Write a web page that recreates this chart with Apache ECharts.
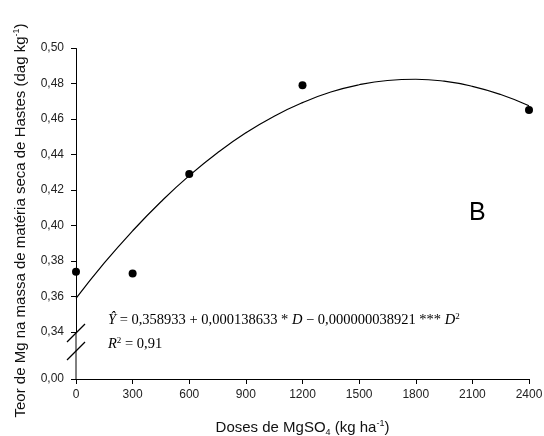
<!DOCTYPE html>
<html>
<head>
<meta charset="utf-8">
<script src="https://cdn.jsdelivr.net/npm/echarts@6/dist/echarts.min.js"></script>
<style>
  html, body { margin: 0; padding: 0; background: #fff; }
  #chart { width: 544px; height: 436px; }
</style>
</head>
<body>
<div id="chart"></div>
<script>
// Observed Mg content in stems per MgSO4 dose
const doses = [0, 300, 600, 1200, 2400];
const teorMg = [0.374, 0.373, 0.429, 0.479, 0.465];

// Fitted quadratic response, sampled along the dose range
const curveDoses = [0, 150, 300, 450, 600, 750, 900, 1050, 1200, 1350, 1500, 1650, 1800, 1950, 2100, 2250, 2400];
const curveTeor = [0.3589, 0.3789, 0.3970, 0.4134, 0.4281, 0.4410, 0.4522, 0.4616, 0.4692, 0.4752, 0.4793, 0.4817, 0.4824, 0.4813, 0.4784, 0.4738, 0.4675];

// Axis ticks
const xTicks = { min: 0, max: 2400, interval: 300 };
const yTicks = { min: 0, max: 0.5, interval: 0.02 };
const yBreak = { start: 0, end: 0.34 };

const FONT = 'Liberation Sans';
const SERIF = 'Liberation Serif';
const comma = v => v.toFixed(2).replace('.', ',');

const chart = echarts.init(document.getElementById('chart'));

const option = {
  animation: false,
  backgroundColor: '#fff',
  grid: { left: 76, right: 15, top: 48, bottom: 57, outerBoundsMode: 'none', containLabel: false },
  xAxis: {
    type: 'value',
    min: xTicks.min, max: xTicks.max, interval: xTicks.interval,
    name: '{a|Doses de MgSO}{b|4}{a| (kg ha}{c|-1}{a|)}',
    nameLocation: 'middle',
    nameGap: 40,
    nameTextStyle: {
      rich: {
        a: { fontFamily: FONT, fontSize: 15, color: '#111' },
        b: { fontFamily: FONT, fontSize: 9, color: '#111', padding: [9, 0, 0, 0] },
        c: { fontFamily: FONT, fontSize: 9, color: '#111', padding: [0, 0, 9, 0] }
      }
    },
    axisLine: { lineStyle: { color: '#000', width: 1 } },
    axisTick: { show: true, inside: false, length: 5, lineStyle: { color: '#000' } },
    axisLabel: { fontFamily: FONT, fontSize: 12, color: '#222', margin: 10, formatter: v => String(v) },
    splitLine: { show: false }
  },
  yAxis: {
    type: 'value',
    min: yTicks.min, max: yTicks.max, interval: yTicks.interval,
    breaks: [{ start: yBreak.start, end: yBreak.end, gap: '14.2%' }],
    breakArea: { show: false },
    name: '{a|Teor de Mg na massa de matéria seca de Hastes (dag kg}{c|-1}{a|)}',
    nameLocation: 'middle',
    nameGap: 46,
    nameRotate: 90,
    nameTextStyle: {
      padding: [0, 14, 0, 0],
      rich: {
        a: { fontFamily: FONT, fontSize: 15, color: '#111' },
        c: { fontFamily: FONT, fontSize: 9, color: '#111', padding: [0, 0, 9, 0] }
      }
    },
    axisLine: { show: true, lineStyle: { color: '#000', width: 1 } },
    axisTick: { show: true, inside: false, length: 5, lineStyle: { color: '#000' } },
    axisLabel: { fontFamily: FONT, fontSize: 12, color: '#222', margin: 12, formatter: comma },
    splitLine: { show: false }
  },
  series: [
    {
      type: 'line',
      data: curveDoses.map((d, i) => [d, curveTeor[i]]),
      smooth: true,
      showSymbol: false,
      lineStyle: { color: '#000', width: 1.2 },
      z: 2
    },
    {
      type: 'scatter',
      data: doses.map((d, i) => [d, teorMg[i]]),
      symbol: 'circle',
      symbolSize: 8,
      itemStyle: { color: '#000', opacity: 1 },
      z: 3
    }
  ]
};

chart.setOption(option);

// Break marks on the y axis plus the regression text and panel letter
const x0 = chart.convertToPixel({ xAxisIndex: 0 }, 0);
const y34 = chart.convertToPixel({ yAxisIndex: 0 }, 0.34);
const y00 = chart.convertToPixel({ yAxisIndex: 0 }, 0);
const slash = cy => ({
  type: 'line',
  shape: { x1: x0 - 9, y1: cy + 9, x2: x0 + 9, y2: cy - 9 },
  style: { stroke: '#000', lineWidth: 1.2 },
  z: 10
});

const eqRich = {
  i: { fontFamily: SERIF, fontStyle: 'italic', fontSize: 14.5, color: '#000' },
  n: { fontFamily: SERIF, fontSize: 14.5, color: '#000' },
  s: { fontFamily: SERIF, fontSize: 9, color: '#000', padding: [0, 0, 8, 0] }
};

chart.setOption({
  graphic: [
    // continuous axis line through the break
    {
      type: 'line',
      shape: { x1: x0, y1: y34, x2: x0, y2: y00 },
      style: { stroke: '#000', lineWidth: 1 },
      z: 9
    },
    slash(y34 + 1),
    slash(y34 + 19),
    {
      type: 'text', left: 108, top: 312,
      style: {
        text: '{i|Ŷ}{n| = 0,358933 + 0,000138633 * }{i|D}{n| − 0,000000038921 *** }{i|D}{s|2}',
        rich: eqRich
      }
    },
    {
      type: 'text', left: 108, top: 336,
      style: {
        text: '{i|R}{s|2}{n| = 0,91}',
        rich: eqRich
      }
    },
    {
      type: 'text', left: 469, top: 201,
      style: { text: 'B', fontFamily: FONT, fontSize: 25, fill: '#000' }
    }
  ]
});
</script>
</body>
</html>
